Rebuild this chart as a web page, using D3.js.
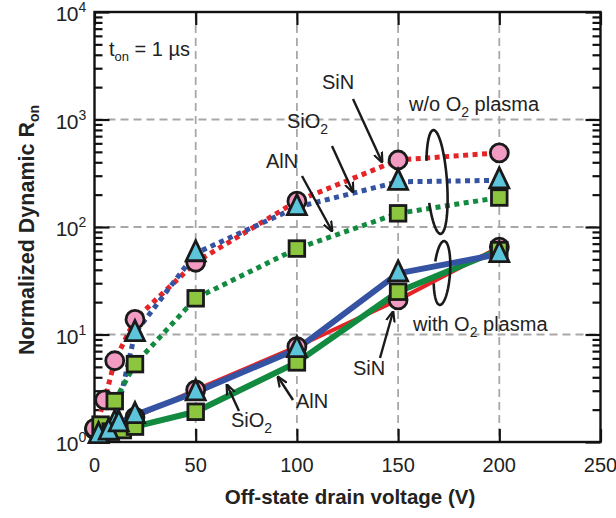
<!DOCTYPE html>
<html><head><meta charset="utf-8">
<script src="https://cdn.jsdelivr.net/npm/d3@7"></script>
<style>body{margin:0;background:#fff}svg{display:block;font-family:"Liberation Sans",Arial,sans-serif}</style>
</head><body><svg id="c" width="616" height="518"></svg>
<script>
// ---- data ----
const xTicks = [0, 50, 100, 150, 200, 250];
const yDecades = [0, 1, 2, 3, 4];
// w/o O2 plasma (dotted)
const sinWoX = [0, 5, 10, 20, 50, 100, 150, 200];
const sinWoY = [1.3, 2.46, 5.7, 13.8, 47, 174, 420, 490];
const sio2WoX = [10, 20, 50, 100, 150, 200];
const sio2WoY = [1.5, 10.3, 57, 153, 263, 272];
const alnWoX = [10, 20, 50, 100, 150, 200];
const alnWoY = [2.4, 5.3, 21.7, 63, 134, 188];
// with O2 plasma (solid)
const sinWX = [0, 5, 10, 20, 50, 100, 150, 200];
const sinWY = [1.34, 1.25, 1.4, 1.7, 3.05, 7.7, 21, 65];
const sio2WX = [2, 7, 12, 20, 50, 100, 150, 200];
const sio2WY = [1.16, 1.25, 1.49, 1.78, 2.9, 7.3, 37, 56];
const alnWX = [3, 8, 14, 20, 50, 100, 150, 200];
const alnWY = [1.45, 1.25, 1.29, 1.39, 1.91, 5.5, 25, 61];

const RED = "#e52427", BLUE = "#3553a3", GREEN = "#128a3f";
const PINK = "#f29bc3", CYAN = "#5cc5dc", LGREEN = "#8cc63f";

const svg = d3.select("#c");
svg.append("rect").attr("width", 616).attr("height", 518).attr("fill", "#fff");
const x = d3.scaleLinear().domain([0, 250]).range([94.5, 600.5]);
const y = d3.scaleLog().domain([1, 1e4]).range([442, 12]);
const L = 94.5, R = 600.5, T = 12, B = 442;

// grid
const grid = svg.append("g").attr("stroke", "#a8a8a8").attr("stroke-width", 1.8).attr("stroke-dasharray", "8,5");
[50, 100, 150, 200].forEach(v => grid.append("line").attr("x1", x(v)).attr("x2", x(v)).attr("y1", T).attr("y2", B));
[10, 100, 1000].forEach(v => grid.append("line").attr("x1", L).attr("x2", R).attr("y1", y(v)).attr("y2", y(v)));

// axes via d3 axis generators (inward ticks)
svg.append("g").attr("transform", `translate(0,${B})`)
  .call(d3.axisBottom(x).tickValues(xTicks).tickSize(-13).tickFormat(""));
svg.append("g").attr("transform", `translate(0,${T})`)
  .call(d3.axisTop(x).tickValues(xTicks).tickSize(-13).tickFormat(""));
const minorVals = [];
yDecades.slice(0, -1).forEach(d => { for (let k = 2; k <= 9; k++) minorVals.push(k * Math.pow(10, d)); });
const majorVals = yDecades.map(d => Math.pow(10, d));
svg.append("g").attr("transform", `translate(${L},0)`).call(d3.axisLeft(y).tickValues(majorVals).tickSize(-15).tickFormat(""));
svg.append("g").attr("transform", `translate(${L},0)`).call(d3.axisLeft(y).tickValues(minorVals).tickSize(-8).tickFormat(""));
svg.append("g").attr("transform", `translate(${R},0)`).call(d3.axisRight(y).tickValues(majorVals).tickSize(-15).tickFormat(""));
svg.append("g").attr("transform", `translate(${R},0)`).call(d3.axisRight(y).tickValues(minorVals).tickSize(-8).tickFormat(""));
svg.selectAll(".domain").remove();
svg.selectAll(".tick line").attr("stroke", "#111").attr("stroke-width", 2.2);
svg.append("rect").attr("x", L).attr("y", T).attr("width", R - L).attr("height", B - T)
  .attr("fill", "none").attr("stroke", "#111").attr("stroke-width", 2.4);

// tick labels
xTicks.forEach(v => svg.append("text").attr("x", x(v)).attr("y", 472).attr("text-anchor", "middle")
  .attr("font-size", 20).attr("fill", "#222").text(v));
yDecades.forEach(d => {
  svg.append("text").attr("x", 78).attr("y", y(Math.pow(10, d)) + 9).attr("text-anchor", "end")
    .attr("font-size", 21).attr("fill", "#222").attr("letter-spacing", -0.5).text("10");
  svg.append("text").attr("x", 78.5).attr("y", y(Math.pow(10, d)) + 0).attr("font-size", 14).attr("fill", "#222").text(d);
});

// axis titles
svg.append("text").attr("x", 350).attr("y", 504).attr("text-anchor", "middle").attr("font-weight", "bold")
  .attr("font-size", 20.5).attr("fill", "#222").text("Off-state drain voltage (V)");
const yt = svg.append("text").attr("transform", "translate(34,230) rotate(-90)").attr("text-anchor", "middle")
  .attr("font-weight", "bold").attr("font-size", 21.5).attr("fill", "#222");
yt.append("tspan").text("Normalized Dynamic R");
yt.append("tspan").attr("font-size", 14).attr("dy", 5).text("on");

// lines
const line = (xs, ys) => d3.line().x((d, i) => x(xs[i])).y(d => y(d))(ys);
const dotted = [[sinWoX, sinWoY, RED], [sio2WoX, sio2WoY, BLUE], [alnWoX, alnWoY, GREEN]];
dotted.forEach(([xs, ys, c]) => svg.append("path").attr("d", line(xs, ys)).attr("fill", "none")
  .attr("stroke", c).attr("stroke-width", 5).attr("stroke-dasharray", "5,4.5"));
const solid = [[sinWX, sinWY, RED, 4], [alnWX, alnWY, GREEN, 6], [sio2WX, sio2WY, BLUE, 6]];
solid.forEach(([xs, ys, c, w]) => svg.append("path").attr("d", line(xs, ys)).attr("fill", "none")
  .attr("stroke", c).attr("stroke-width", w).attr("stroke-linejoin", "round"));

// markers
const mk = svg.append("g").attr("stroke", "#1a1a1a").attr("stroke-width", 2.8);
[[sinWoX, sinWoY], [sinWX, sinWY]].forEach(([xs, ys]) => ys.forEach((v, i) =>
  mk.append("circle").attr("cx", x(xs[i])).attr("cy", y(v)).attr("r", 9).attr("fill", PINK)));
[[alnWoX, alnWoY], [alnWX, alnWY]].forEach(([xs, ys]) => ys.forEach((v, i) =>
  mk.append("rect").attr("x", x(xs[i]) - 7.8).attr("y", y(v) - 7.8).attr("width", 15.6).attr("height", 15.6).attr("fill", LGREEN)));
[[sio2WoX, sio2WoY], [sio2WX, sio2WY]].forEach(([xs, ys]) => ys.forEach((v, i) => {
  const cx = x(xs[i]), cy = y(v);
  mk.append("path").attr("d", `M${cx},${cy - 12.5}L${cx + 9.5},${cy + 7.5}L${cx - 9.5},${cy + 7.5}Z`)
    .attr("fill", CYAN).attr("stroke-linejoin", "miter");
}));

// annotations
const ann = svg.append("g").attr("font-size", 20).attr("fill", "#222");
const t1 = ann.append("text").attr("x", 109).attr("y", 56);
t1.append("tspan").text("t");
t1.append("tspan").attr("font-size", 13).attr("dy", 5).text("on");
t1.append("tspan").attr("dy", -5).text(" = 1 \u00b5s");
ann.append("text").attr("x", 322).attr("y", 89).text("SiN");
const s1 = ann.append("text").attr("x", 287).attr("y", 128);
s1.append("tspan").text("SiO");
s1.append("tspan").attr("font-size", 14).attr("dy", 6).text("2");
ann.append("text").attr("x", 266).attr("y", 168).text("AlN");
const w1 = ann.append("text").attr("x", 409).attr("y", 111);
w1.append("tspan").text("w/o O");
w1.append("tspan").attr("font-size", 14).attr("dy", 6).text("2");
w1.append("tspan").attr("dy", -6).text(" plasma");
const w2 = ann.append("text").attr("x", 413).attr("y", 331);
w2.append("tspan").text("with O");
w2.append("tspan").attr("font-size", 14).attr("dy", 6).text("2");
w2.append("tspan").attr("dy", -6).text(" plasma");
ann.append("text").attr("x", 353).attr("y", 375).text("SiN");
ann.append("text").attr("x", 296).attr("y", 408).text("AlN");
const s2 = ann.append("text").attr("x", 231).attr("y", 427);
s2.append("tspan").text("SiO");
s2.append("tspan").attr("font-size", 14).attr("dy", 6).text("2");

// arrows
svg.append("defs").append("marker").attr("id", "ah").attr("viewBox", "0 0 10 10").attr("refX", 9).attr("refY", 5)
  .attr("markerWidth", 4.5).attr("markerHeight", 4.5).attr("orient", "auto")
  .append("path").attr("d", "M0,1L10,5L0,9").attr("fill", "none").attr("stroke", "#1a1a1a").attr("stroke-width", 2);
const arrows = [
  [353, 99, 382, 162], [332, 146, 353, 192], [302, 176, 332, 231],
  [239, 411, 227, 385], [293, 400, 278, 377], [380, 358, 393, 312]
];
arrows.forEach(([a, b, c, d]) => svg.append("line").attr("x1", a).attr("y1", b).attr("x2", c).attr("y2", d)
  .attr("stroke", "#1a1a1a").attr("stroke-width", 2.4).attr("marker-end", "url(#ah)"));

// loops (open ellipses)
function loop(cx, cy, rx, ry, gapA, gapB, rot) {
  const pts = [];
  for (let a = gapB; a <= gapA + 360; a += 4) {
    const r = a * Math.PI / 180;
    pts.push([rx * Math.cos(r), ry * Math.sin(r)]);
  }
  svg.append("path").attr("d", d3.line()(pts)).attr("transform", `translate(${cx},${cy}) rotate(${rot})`)
    .attr("fill", "none").attr("stroke", "#1a1a1a").attr("stroke-width", 2.6);
}
loop(437, 182, 10, 52, 160, 205, -4);
loop(442, 273, 8, 32, 160, 200, 4);
</script></body></html>
